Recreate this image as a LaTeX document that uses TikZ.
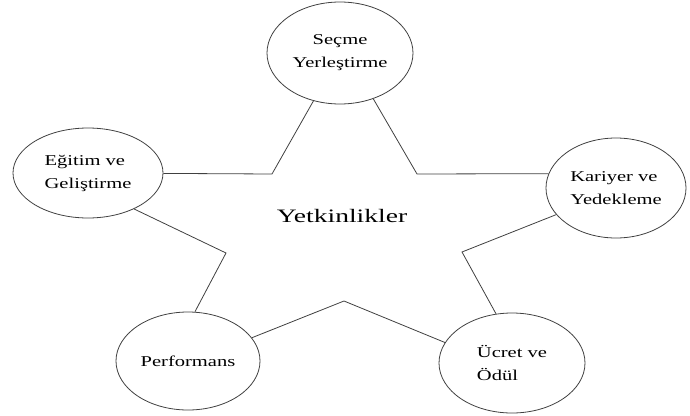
\documentclass[tikz,border=0pt]{standalone}
\usepackage{fontspec}
\setmainfont{Liberation Serif}
\newfontfamily\lblfont[FakeStretch=1.37]{Liberation Serif}
\newfontfamily\midfont[FakeStretch=1.45]{Liberation Serif}
\usetikzlibrary{positioning, shapes}

\begin{document}
\begin{tikzpicture}[x=1pt, y=-1pt,
    area/.style={ellipse, draw=black!75, line width=0.8pt, inner sep=0pt,
        align=left, font=\lblfont\fontsize{15}{23}\selectfont},
    link/.style={draw=black!75, line width=0.8pt}]
    \useasboundingbox (0,0) rectangle (690,415);

    % Draw the five areas
    \node[area, minimum width=146pt, minimum height=102pt, align=center] (secme) at (340,53) {Seçme\\Yerleştirme};
    \node[area, minimum width=150pt, minimum height=90pt] (egitim) at (88,173) {Eğitim ve\\Geliştirme};
    \node[area, minimum width=140pt, minimum height=100pt] (kariyer) at (616,188) {Kariyer ve\\Yedekleme};
    \node[area, minimum width=144pt, minimum height=98pt] (performans) at (188,361) {Performans};
    \node[area, minimum width=146pt, minimum height=100pt] (ucret) at (512,363) {Ücret ve\\Ödül};

    % Centre text
    \node[font=\midfont\fontsize{19}{23}\selectfont] (yetkin) at (342,216) {Yetkinlikler};

    % Star corners
    \coordinate (c1) at (272,174);
    \coordinate (c2) at (417,174);
    \coordinate (c3) at (226,253);
    \coordinate (c4) at (344,301);
    \coordinate (c5) at (462,252);

    % Draw star
    \draw[link] (egitim) -- (c1) -- (secme.241);
    \draw[link] (secme.306) -- (c2) -- (kariyer.168);
    \draw[link] (kariyer.204) -- (c5) -- (ucret.108);
    \draw[link] (ucret.163) -- (c4) -- (performans.20);
    \draw[link] (performans.82) -- (c3) -- (egitim.-38);
\end{tikzpicture}
\end{document}
